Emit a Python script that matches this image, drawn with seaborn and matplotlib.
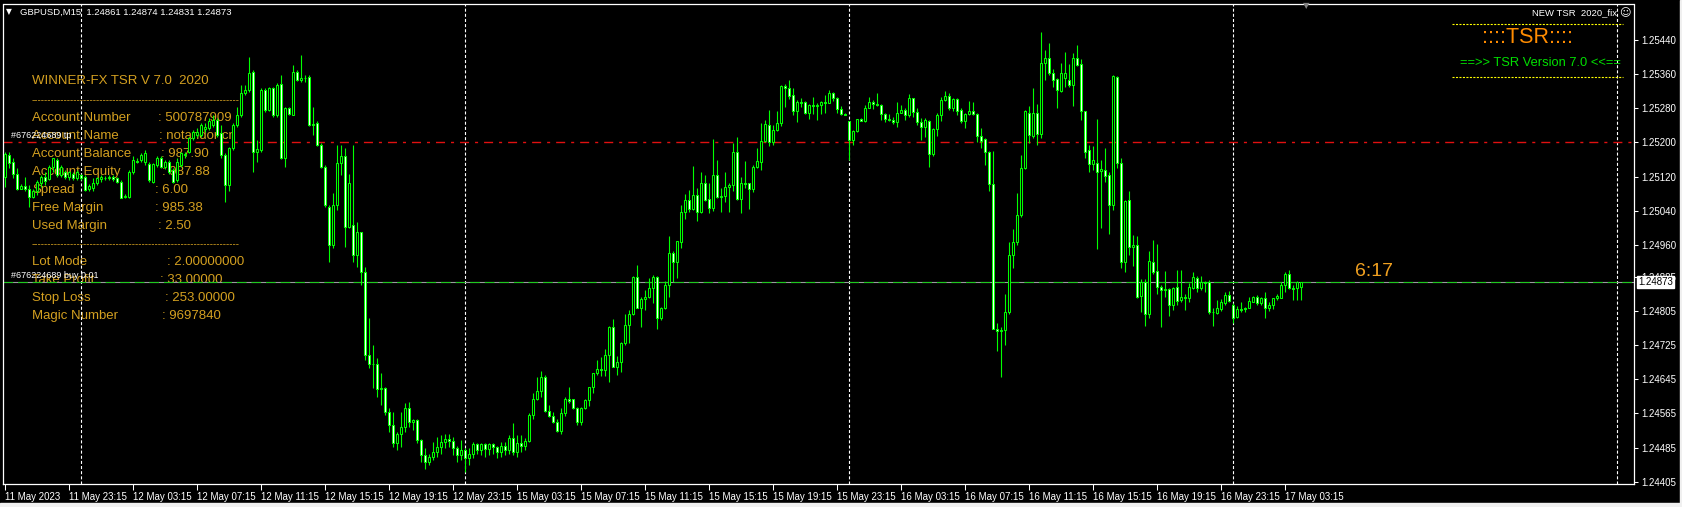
import numpy as np
import pandas as pd
import matplotlib
matplotlib.use("Agg")
import matplotlib.pyplot as plt
import matplotlib.transforms as mtransforms
from matplotlib.lines import Line2D
from matplotlib.patches import Rectangle
import seaborn as sns

# --- GBPUSD M15, 11 May 19:15 -> 17 May 04:15 (prices in points, 1e-5) ---
open_pts = [
    125120, 125170, 125153, 125127, 125092, 125099, 125091, 125073, 125086, 125106,
    125120, 125114, 125143, 125159, 125124, 125131, 125120, 125127, 125116, 125124,
    125120, 125091, 125094, 125104, 125114, 125117, 125117, 125119, 125116, 125108,
    125073, 125073, 125131, 125156, 125159, 125155, 125149, 125108, 125147, 125164,
    125143, 125155, 125135, 125112, 125147, 125170, 125178, 125210, 125217, 125217,
    125231, 125233, 125241, 125252, 125221, 125170, 125100, 125186, 125241, 125264,
    125315, 125323, 125364, 125178, 125182, 125323, 125276, 125327, 125264, 125336,
    125163, 125280, 125264, 125366, 125346, 125350, 125354, 125242, 125245, 125194,
    125143, 125049, 124960, 125053, 125151, 125169, 125002, 125006, 124936, 124989,
    124897, 124702, 124680, 124680, 124622, 124625, 124569, 124538, 124495, 124516,
    124534, 124577, 124546, 124549, 124503, 124467, 124452, 124464, 124475, 124487,
    124499, 124505, 124500, 124483, 124467, 124479, 124460, 124471, 124493, 124479,
    124493, 124481, 124493, 124487, 124475, 124489, 124479, 124507, 124475, 124495,
    124489, 124500, 124561, 124599, 124617, 124651, 124571, 124560, 124544, 124524,
    124567, 124599, 124599, 124577, 124544, 124577, 124596, 124626, 124659, 124669,
    124667, 124703, 124768, 124675, 124685, 124729, 124772, 124797, 124884, 124813,
    124833, 124838, 124860, 124884, 124789, 124813, 124866, 124940, 124919, 124966,
    125036, 125065, 125045, 125077, 125036, 125104, 125067, 125047, 125124, 125073,
    125075, 125096, 125100, 125177, 125067, 125106, 125104, 125091, 125143, 125155,
    125203, 125241, 125202, 125229, 125245, 125332, 125328, 125311, 125273, 125294,
    125294, 125268, 125288, 125286, 125288, 125294, 125293, 125315, 125303, 125278,
    125266, 125249, 125206, 125227, 125254, 125250, 125281, 125294, 125289, 125288,
    125266, 125255, 125253, 125247, 125270, 125276, 125263, 125303, 125272, 125247,
    125237, 125250, 125172, 125231, 125264, 125299, 125309, 125280, 125302, 125276,
    125249, 125266, 125273, 125266, 125216, 125208, 125178, 125102, 124764, 124758,
    124760, 124802, 124936, 124966, 125031, 125139, 125270, 125216, 125268, 125219,
    125385, 125397, 125362, 125348, 125320, 125350, 125346, 125334, 125397, 125383,
    125273, 125182, 125149, 125151, 125133, 125135, 125124, 125053, 125354, 125151,
    124919, 125065, 124956, 124960, 124841, 124874, 124799, 124920, 124899, 124862,
    124854, 124856, 124820, 124862, 124831, 124838, 124836, 124858, 124883, 124860,
    124872, 124872, 124803, 124800, 124810, 124823, 124842, 124820, 124792, 124810,
    124811, 124813, 124827, 124838, 124823, 124836, 124813, 124819, 124835, 124836,
    124867, 124891, 124858, 124858, 124861,
]
high_pts = [
    125178, 125178, 125163, 125139, 125102, 125120, 125100, 125092, 125112, 125124,
    125131, 125147, 125164, 125163, 125147, 125135, 125133, 125131, 125135, 125127,
    125124, 125102, 125116, 125120, 125124, 125122, 125124, 125124, 125120, 125112,
    125078, 125135, 125167, 125163, 125174, 125182, 125155, 125151, 125169, 125167,
    125159, 125159, 125139, 125163, 125178, 125178, 125213, 125229, 125233, 125245,
    125245, 125256, 125264, 125256, 125241, 125174, 125190, 125245, 125284, 125334,
    125334, 125401, 125370, 125206, 125327, 125327, 125330, 125330, 125338, 125358,
    125284, 125284, 125381, 125370, 125405, 125358, 125358, 125284, 125249, 125198,
    125147, 125053, 125081, 125194, 125194, 125186, 125127, 125194, 125014, 124991,
    124909, 124788, 124725, 124694, 124659, 124628, 124577, 124569, 124522, 124569,
    124589, 124592, 124553, 124553, 124505, 124483, 124471, 124499, 124510, 124514,
    124518, 124516, 124510, 124489, 124503, 124485, 124483, 124499, 124497, 124495,
    124495, 124495, 124495, 124489, 124499, 124499, 124514, 124542, 124514, 124514,
    124507, 124565, 124612, 124651, 124664, 124655, 124585, 124569, 124553, 124577,
    124604, 124628, 124600, 124581, 124581, 124600, 124628, 124661, 124690, 124698,
    124716, 124770, 124786, 124700, 124733, 124797, 124807, 124888, 124913, 124838,
    124854, 124883, 124889, 124888, 124815, 124875, 124981, 124945, 124969, 125053,
    125078, 125088, 125145, 125094, 125131, 125124, 125106, 125208, 125159, 125094,
    125131, 125106, 125198, 125213, 125120, 125156, 125106, 125147, 125188, 125245,
    125252, 125276, 125241, 125273, 125334, 125336, 125346, 125327, 125299, 125305,
    125297, 125289, 125307, 125292, 125297, 125311, 125323, 125319, 125307, 125286,
    125270, 125249, 125229, 125255, 125258, 125288, 125307, 125299, 125315, 125289,
    125270, 125266, 125260, 125294, 125288, 125280, 125313, 125305, 125280, 125256,
    125258, 125252, 125234, 125268, 125307, 125320, 125315, 125303, 125303, 125281,
    125268, 125297, 125294, 125268, 125233, 125210, 125180, 125180, 124778, 124768,
    124844, 124966, 124997, 125081, 125170, 125276, 125286, 125327, 125289, 125458,
    125416, 125432, 125372, 125352, 125385, 125411, 125383, 125409, 125427, 125395,
    125273, 125194, 125192, 125255, 125159, 125186, 125131, 125359, 125356, 125164,
    125065, 125085, 124983, 124981, 124880, 124881, 124945, 124971, 124963, 124867,
    124899, 124858, 124862, 124901, 124901, 124844, 124870, 124896, 124888, 124888,
    124875, 124878, 124811, 124831, 124833, 124849, 124852, 124823, 124817, 124825,
    124815, 124838, 124841, 124842, 124838, 124850, 124825, 124836, 124844, 124872,
    124896, 124901, 124866, 124875, 124874,
]
low_pts = [
    125096, 125139, 125116, 125088, 125091, 125085, 125049, 125069, 125077, 125096,
    125100, 125112, 125131, 125120, 125120, 125114, 125112, 125112, 125112, 125112,
    125085, 125086, 125085, 125100, 125108, 125112, 125112, 125110, 125104, 125069,
    125069, 125070, 125127, 125151, 125155, 125147, 125108, 125104, 125143, 125139,
    125138, 125127, 125104, 125108, 125143, 125164, 125174, 125206, 125213, 125213,
    125224, 125229, 125237, 125213, 125163, 125061, 125085, 125182, 125237, 125260,
    125311, 125319, 125131, 125155, 125178, 125272, 125273, 125260, 125260, 125161,
    125143, 125263, 125263, 125344, 125342, 125341, 125239, 125217, 125192, 125139,
    125049, 124920, 124952, 125042, 125124, 124956, 125000, 124920, 124909, 124866,
    124690, 124671, 124624, 124604, 124585, 124561, 124522, 124487, 124479, 124487,
    124522, 124534, 124526, 124495, 124452, 124436, 124444, 124456, 124464, 124471,
    124483, 124487, 124467, 124452, 124456, 124428, 124444, 124460, 124471, 124467,
    124464, 124467, 124471, 124460, 124464, 124467, 124471, 124467, 124464, 124475,
    124479, 124499, 124553, 124596, 124604, 124569, 124557, 124542, 124522, 124518,
    124560, 124589, 124575, 124539, 124539, 124575, 124583, 124614, 124656, 124653,
    124653, 124639, 124673, 124656, 124663, 124725, 124731, 124795, 124811, 124768,
    124807, 124835, 124823, 124764, 124784, 124810, 124838, 124874, 124883, 124953,
    125020, 125036, 125042, 125016, 125034, 125063, 125034, 125039, 125070, 125036,
    125060, 125038, 125085, 125065, 125034, 125094, 125045, 125083, 125141, 125135,
    125200, 125192, 125195, 125227, 125239, 125284, 125302, 125263, 125247, 125284,
    125266, 125255, 125266, 125252, 125266, 125270, 125292, 125297, 125270, 125264,
    125263, 125159, 125194, 125225, 125249, 125247, 125280, 125278, 125286, 125252,
    125247, 125249, 125242, 125237, 125268, 125252, 125260, 125260, 125241, 125206,
    125213, 125143, 125167, 125216, 125249, 125297, 125276, 125273, 125264, 125245,
    125234, 125263, 125263, 125202, 125188, 125147, 125086, 124763, 124711, 124651,
    124725, 124799, 124905, 124960, 125026, 125138, 125198, 125211, 125195, 125210,
    125346, 125359, 125330, 125281, 125319, 125330, 125330, 125286, 125380, 125252,
    125164, 125130, 125135, 124950, 125000, 125108, 124985, 125042, 125141, 124905,
    124896, 124936, 124911, 124835, 124803, 124770, 124788, 124891, 124844, 124768,
    124838, 124794, 124807, 124820, 124827, 124807, 124827, 124856, 124850, 124854,
    124850, 124799, 124770, 124797, 124805, 124820, 124825, 124778, 124789, 124802,
    124802, 124811, 124825, 124820, 124819, 124789, 124805, 124810, 124831, 124835,
    124850, 124856, 124831, 124831, 124831,
]
close_pts = [
    125172, 125151, 125127, 125092, 125099, 125091, 125073, 125086, 125108, 125120,
    125110, 125143, 125163, 125124, 125143, 125120, 125130, 125116, 125130, 125116,
    125088, 125099, 125104, 125116, 125120, 125116, 125119, 125114, 125108, 125070,
    125075, 125131, 125159, 125155, 125170, 125174, 125112, 125149, 125164, 125143,
    125153, 125131, 125108, 125155, 125174, 125172, 125210, 125225, 125224, 125241,
    125237, 125249, 125252, 125217, 125170, 125100, 125186, 125241, 125264, 125315,
    125323, 125362, 125178, 125184, 125323, 125276, 125327, 125264, 125334, 125163,
    125280, 125266, 125366, 125346, 125350, 125352, 125241, 125241, 125194, 125143,
    125053, 124960, 125053, 125151, 125169, 125002, 125104, 124936, 124989, 124897,
    124702, 124680, 124682, 124622, 124625, 124569, 124538, 124495, 124516, 124534,
    124578, 124546, 124549, 124503, 124467, 124452, 124464, 124475, 124487, 124499,
    124505, 124500, 124483, 124467, 124479, 124460, 124471, 124493, 124479, 124493,
    124481, 124493, 124487, 124475, 124489, 124479, 124507, 124475, 124495, 124489,
    124500, 124561, 124599, 124617, 124651, 124571, 124560, 124544, 124524, 124567,
    124599, 124594, 124577, 124544, 124578, 124596, 124626, 124659, 124669, 124667,
    124703, 124768, 124675, 124685, 124729, 124772, 124797, 124884, 124813, 124833,
    124838, 124860, 124884, 124789, 124813, 124866, 124940, 124919, 124969, 125036,
    125065, 125045, 125077, 125036, 125104, 125065, 125047, 125124, 125073, 125075,
    125096, 125100, 125177, 125067, 125106, 125102, 125091, 125143, 125156, 125203,
    125242, 125202, 125229, 125245, 125332, 125328, 125309, 125273, 125294, 125292,
    125268, 125288, 125286, 125288, 125294, 125293, 125315, 125303, 125278, 125266,
    125264, 125206, 125227, 125254, 125250, 125281, 125294, 125289, 125288, 125266,
    125255, 125253, 125247, 125270, 125276, 125263, 125303, 125272, 125247, 125237,
    125252, 125172, 125231, 125264, 125299, 125309, 125280, 125302, 125273, 125249,
    125266, 125273, 125266, 125216, 125203, 125178, 125102, 124764, 124758, 124760,
    124802, 124936, 124966, 125031, 125141, 125273, 125217, 125270, 125219, 125385,
    125397, 125362, 125346, 125323, 125362, 125362, 125334, 125398, 125381, 125273,
    125178, 125149, 125159, 125131, 125138, 125122, 125053, 125356, 125151, 124919,
    125063, 124956, 124960, 124838, 124874, 124799, 124922, 124897, 124862, 124854,
    124856, 124820, 124858, 124828, 124838, 124836, 124862, 124885, 124860, 124872,
    124870, 124802, 124802, 124813, 124825, 124842, 124828, 124789, 124810, 124807,
    124810, 124828, 124838, 124823, 124836, 124813, 124819, 124835, 124841, 124867,
    124891, 124858, 124856, 124874, 124873,
]

tick_prices = [1.25440, 1.25360, 1.25280, 1.25200, 1.25120, 1.25040, 1.24960,
               1.24885, 1.24805, 1.24725, 1.24645, 1.24565, 1.24485, 1.24405]
time_labels = ["11 May 2023", "11 May 23:15", "12 May 03:15", "12 May 07:15", "12 May 11:15",
               "12 May 15:15", "12 May 19:15", "12 May 23:15", "15 May 03:15", "15 May 07:15",
               "15 May 11:15", "15 May 15:15", "15 May 19:15", "15 May 23:15", "16 May 03:15",
               "16 May 07:15", "16 May 11:15", "16 May 15:15", "16 May 19:15", "16 May 23:15",
               "17 May 03:15"]
label_every = 16          # one time label every 16 bars (4 hours)
day_breaks = [19, 115, 211, 307, 403]   # bar index of each midnight
tp_price = 1.25202
bid_price = 1.24873

panel_labels = ["Account Number", "Account Name", "Account Balance", "Account Equity",
                "Spread", "Free Margin", "Used Margin"]
panel_values = [": 500787909", ": notandor cn", ": 987.90", ": 987.88",
                ": 6.00", ": 985.38", ": 2.50"]
panel_labels2 = ["Lot Mode", "Take Profit", "Stop Loss", "Magic Number"]
panel_values2 = [": 2.00000000", ": 33.00000", ": 253.00000", ": 9697840"]

# --- STYLE ---
sns.set_theme(style="dark", rc={
    "axes.facecolor": "black",
    "figure.facecolor": "black",
    "axes.edgecolor": "white",
    "lines.scale_dashes": False,
})
plt.rcParams["font.family"] = ["Liberation Sans", "DejaVu Sans"]

GREEN = "#00ff00"
GOLD = "#d4a020"

df = pd.DataFrame({
    "open": np.array(open_pts) / 1e5,
    "high": np.array(high_pts) / 1e5,
    "low": np.array(low_pts) / 1e5,
    "close": np.array(close_pts) / 1e5,
})
df["bar"] = np.arange(len(df))
up = df["close"] >= df["open"]

W, H = 1682, 507
fig = plt.figure(figsize=(W / 100, H / 100), dpi=100)
ax = fig.add_axes([3 / W, 1 - 483.5 / H, 1631 / W, 479 / H])
ax.set_facecolor("black")


def fx(px):
    return px / W


def fy(py):
    return 1 - py / H


# candles
ax.vlines(df["bar"], df["low"], df["high"], color=GREEN, lw=0.8, zorder=3)
ax.bar(df["bar"], df["close"] - df["open"], bottom=df["open"], width=0.5,
       color=np.where(up, "black", "white"), edgecolor=GREEN, linewidth=0.75, zorder=4)

# day separators
for b in day_breaks:
    ax.axvline(b, color="white", lw=0.8, dashes=(2.2, 1.5), zorder=2)

# take-profit line and bid / order line
ax.axhline(tp_price, color="#e01010", lw=1.0, dashes=(6.5, 4.3, 2.2, 4.3), zorder=2)
ax.axhline(bid_price, color="#9a9aa0", lw=0.8, zorder=2)
ax.axhline(bid_price, color="#1ec81e", lw=0.8, dashes=(7, 3.5), zorder=2)

ax.set_xlim(-0.5, 407.25)
ax.set_ylim(1.24401, 1.25523)
ax.grid(False)
for sp in ax.spines.values():
    sp.set_color("white")
    sp.set_linewidth(0.9)

xt = list(range(0, label_every * len(time_labels), label_every))
ax.set_xticks(xt)
ax.set_xticklabels(time_labels, ha="left")
ax.tick_params(axis="x", colors="white", length=4, width=0.75, labelsize=7, pad=2,
               direction="out", bottom=True)
ax.yaxis.tick_right()
ax.set_yticks(tick_prices)
ax.set_yticklabels([f"{p:.5f}" for p in tick_prices])
ax.tick_params(axis="y", colors="white", length=3, width=0.75, labelsize=7, pad=2.5,
               direction="out", right=True)

# current price box on the price scale
trans = mtransforms.blended_transform_factory(ax.transAxes, ax.transData)
ax.text(1.0025, bid_price, "1.24873", transform=trans, fontsize=7, color="black",
        va="center", ha="left", zorder=6,
        bbox=dict(facecolor="white", edgecolor="white", pad=1.0))

# --- info panel (behind candles) ---
ft = fig.transFigure
ax.text(fx(32), fy(81), "WINNER-FX TSR V 7.0  2020", transform=ft, color=GOLD,
        fontsize=9.5, va="center", zorder=1)
dash_str = "-" * 64
ax.text(fx(32), fy(100), dash_str, transform=ft, color=GOLD, fontsize=7, va="center", zorder=1)
ax.text(fx(32), fy(244), dash_str, transform=ft, color=GOLD, fontsize=7, va="center", zorder=1)
col1 = [158, 159, 161, 162, 155, 155, 158]
for k, (lab, val) in enumerate(zip(panel_labels, panel_values)):
    yy = 118 + 18 * k
    ax.text(fx(32), fy(yy), lab, transform=ft, color=GOLD, fontsize=9.5, va="center", zorder=1)
    ax.text(fx(col1[k]), fy(yy), val, transform=ft, color=GOLD, fontsize=9.5, va="center", zorder=1)
col2 = [167, 160, 165, 162]
for k, (lab, val) in enumerate(zip(panel_labels2, panel_values2)):
    yy = 262 + 18 * k
    ax.text(fx(32), fy(yy), lab, transform=ft, color=GOLD, fontsize=9.5, va="center", zorder=1)
    ax.text(fx(col2[k]), fy(yy), val, transform=ft, color=GOLD, fontsize=9.5, va="center", zorder=1)

# order labels
ax.text(fx(11), fy(135), "#676224689 tp", transform=ft, color="white", fontsize=6.5,
        va="center", zorder=6)
ax.text(fx(11), fy(276), "#676224689 buy 0.01", transform=ft, color="white", fontsize=6.5,
        va="center", zorder=6)

# header
fig.text(fx(6), fy(12), "\u25bc", color="white", fontsize=5.5, va="center",
         family=["DejaVu Sans"])
fig.text(fx(20), fy(12), "GBPUSD,M15  1.24861 1.24874 1.24831 1.24873", color="white",
         fontsize=6.8, va="center")
fig.text(fx(1617), fy(13), "NEW TSR  2020_fix", color="white", fontsize=6.8, va="center",
         ha="right")
fig.text(fx(1625), fy(13), "\u263a", color="white", fontsize=8, va="center", ha="center",
         family=["DejaVu Sans"])
fig.text(fx(1306), fy(6), "\u25bc", color="#808080", fontsize=6, va="center", ha="center",
         family=["DejaVu Sans"])

# TSR badge, top right
for yy in (24, 77):
    fig.add_artist(Line2D([fx(1452), fx(1623)], [fy(yy), fy(yy)], transform=ft,
                          color="#ffff00", lw=0.8, dashes=(1.5, 1.0)))
fig.text(fx(1528), fy(38), "::::TSR::::", color="#ff8c00", fontsize=15.5, va="center",
         ha="center")
fig.text(fx(1540), fy(63), "==>> TSR Version 7.0 <<==", color="#00e000", fontsize=9.3,
         va="center", ha="center")

# bar countdown
fig.text(fx(1355), fy(272), "6:17", color="#f0a020", fontsize=14, va="center")

# window border
fig.add_artist(Rectangle((0, 0), 1, 4 / H, transform=ft, color="#f0f0f0", zorder=0))
fig.add_artist(Rectangle((1 - 2 / W, 0), 2 / W, 1, transform=ft, color="#f0f0f0", zorder=0))

fig.savefig("out.png", dpi=100, facecolor="black")
